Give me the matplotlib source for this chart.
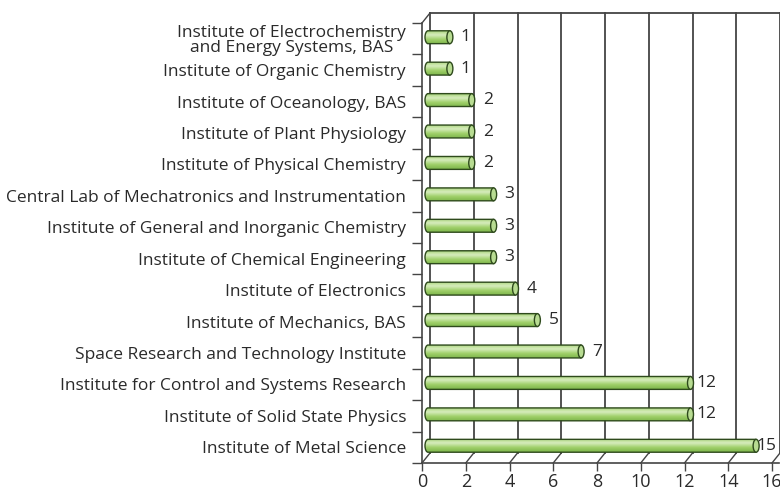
import numpy as np
import matplotlib
matplotlib.use('Agg')
import matplotlib.pyplot as plt
from matplotlib.transforms import offset_copy
from matplotlib.patches import Ellipse, PathPatch
from matplotlib.path import Path

# data, bottom to top
institutes = [
    'Institute of Metal Science',
    'Institute of Solid State Physics',
    'Institute for Control and Systems Research',
    'Space Research and Technology Institute',
    'Institute of Mechanics, BAS',
    'Institute of Electronics',
    'Institute of Chemical Engineering',
    'Institute of General and Inorganic Chemistry',
    'Central Lab of Mechatronics and Instrumentation',
    'Institute of Physical Chemistry',
    'Institute of Plant Physiology',
    'Institute of Oceanology, BAS',
    'Institute of Organic Chemistry',
    'Institute of Electrochemistry\nand Energy Systems, BAS',
]
counts = [15, 12, 12, 7, 5, 4, 3, 3, 3, 2, 2, 2, 1, 1]
x_ticks = [0, 2, 4, 6, 8, 10, 12, 14, 16]

plt.rcParams['font.family'] = ['Open Sans', 'DejaVu Sans']

W, H = 780, 490
fig = plt.figure(figsize=(W / 100, H / 100), dpi=100)
ax = fig.add_axes([422 / W, 27 / H, 350 / W, 440 / H])
n = len(institutes)
ax.set_xlim(0, 16)
ax.set_ylim(-0.5, n - 0.5)

line_col = '#444444'
txt_col = '#2a2a2a'
# depth offset of the back wall
back = offset_copy(ax.transData, fig=fig, x=8, y=10, units='dots')
mid = offset_copy(ax.transData, fig=fig, x=6, y=1.5, units='dots')
ux = 350 / 16   # px per unit
uy = 440 / n    # px per category

# back wall grid + floor slants
for t in x_ticks:
    ax.plot([t, t], [-0.5, n - 0.5], color=line_col, lw=1.3, transform=back,
            clip_on=False, zorder=1)
    ax.plot([t, t + 8 / ux], [-0.5, -0.5 + 10 / uy], color=line_col,
            lw=1.0, clip_on=False, zorder=1)
ax.plot([0, 17], [n - 0.5, n - 0.5], color=line_col, lw=1.3, transform=back,
        clip_on=False, zorder=1)
ax.plot([0, 8 / ux], [n - 0.5, n - 0.5 + 10 / uy], color=line_col,
        lw=1.0, clip_on=False, zorder=1)

# cylinder bars
h = 0.41
rx = 3 / ux
grad = np.linspace(0, 1, 64).reshape(-1, 1)
cmap = matplotlib.colors.LinearSegmentedColormap.from_list(
    'cyl', [(0, '#7fb64c'), (0.35, '#9fd06a'), (0.7, '#d6ecbc'),
            (0.85, '#c4e3a2'), (1, '#a9d47e')])
vmax = max(counts)
for i, v in enumerate(counts):
    y0, y1 = i - h / 2, i + h / 2
    k = 0.5523
    verts = [(v, y0), (0, y0),
             (-rx * k, y0), (-rx, i - h / 2 * k), (-rx, i),
             (-rx, i + h / 2 * k), (-rx * k, y1), (0, y1),
             (v, y1), (v, y0)]
    codes = [Path.MOVETO, Path.LINETO,
             Path.CURVE4, Path.CURVE4, Path.CURVE4,
             Path.CURVE4, Path.CURVE4, Path.CURVE4,
             Path.LINETO, Path.CLOSEPOLY]
    body = PathPatch(Path(verts, codes), facecolor='none', edgecolor='#2e4a1c',
                     lw=1.0, transform=mid, zorder=3, clip_on=False)
    im = ax.imshow(grad, cmap=cmap, aspect='auto', origin='lower',
                   extent=[-rx, v, y0, y1], zorder=2, transform=mid,
                   interpolation='bilinear')
    ax.add_patch(body)
    im.set_clip_path(body)
    cap = Ellipse((v, i), 2 * rx, h, facecolor='#b8dc92', edgecolor='#2e4a1c',
                  lw=1.0, transform=mid, zorder=4, clip_on=False)
    ax.add_patch(cap)
    # value label; the longest one is pulled in to stay inside the picture
    if v == vmax:
        ha, dx = 'right', 26
    else:
        ha, dx = 'center', 22
    ax.text(v, i, str(v), transform=offset_copy(ax.transData, fig=fig, x=dx,
            y=1.5, units='dots'), va='center', ha=ha, fontsize=12.5,
            color=txt_col, zorder=5)

# axes styling
for s in ['top', 'right']:
    ax.spines[s].set_visible(False)
for s in ['left', 'bottom']:
    ax.spines[s].set_color(line_col)
    ax.spines[s].set_linewidth(1.2)
ax.spines['bottom'].set_bounds(0, 16.3)
ax.set_xticks(x_ticks)
ax.set_xticklabels([str(t) for t in x_ticks], fontsize=13, color=txt_col)
ax.tick_params(axis='x', length=6, width=1.0, color=line_col, pad=1.5)
ax.set_yticks(np.arange(-0.5, n, 1.0))
ax.set_yticklabels([])
ax.tick_params(axis='y', which='major', length=7, width=1.0, color=line_col)
ax.set_yticks(np.arange(n), minor=True)
ax.set_yticklabels(institutes, minor=True, fontsize=12.5, color=txt_col,
                   multialignment='center', linespacing=0.95)
ax.tick_params(axis='y', which='minor', length=0, pad=11.5)
ax.set_facecolor('none')

fig.savefig('out.png', dpi=100)
